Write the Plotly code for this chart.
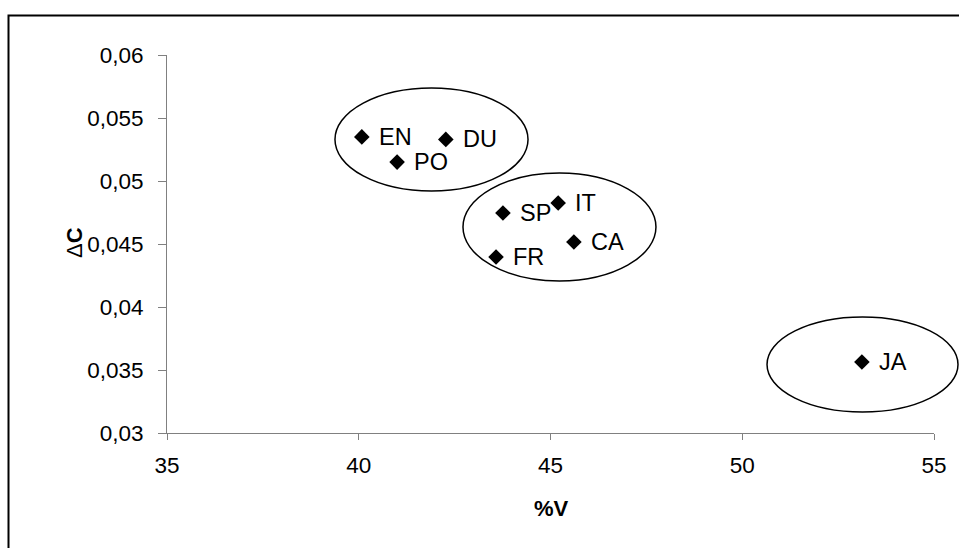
import plotly.graph_objects as go

# data
languages = ["EN", "DU", "PO", "SP", "IT", "CA", "FR", "JA"]
pct_v = [40.08, 42.27, 41.0, 43.76, 45.2, 45.61, 43.58, 53.12]
delta_c = [0.0535, 0.0533, 0.0515, 0.04746, 0.04825, 0.04516, 0.04397, 0.03563]
x_ticks = [35, 40, 45, 50, 55]
x_ticktext = ["35", "40", "45", "50", "55"]
y_ticks = [0.03, 0.035, 0.04, 0.045, 0.05, 0.055, 0.06]
y_ticktext = ["0,03", "0,035", "0,04", "0,045", "0,05", "0,055", "0,06"]

FONT = "Liberation Sans, Arial, sans-serif"

fig = go.Figure()
fig.add_trace(go.Scatter(
    x=pct_v, y=delta_c, mode="markers",
    marker=dict(symbol="diamond", size=12, color="black"),
    hoverinfo="skip", showlegend=False, cliponaxis=False,
))

annotations = []
for name, xv, yv in zip(languages, pct_v, delta_c):
    annotations.append(dict(x=xv, y=yv, xref="x", yref="y", text=name,
                            showarrow=False, xanchor="left", yanchor="middle",
                            xshift=15, font=dict(family=FONT, size=23.5, color="black")))

annotations.append(dict(x=(74 - 167) / 767, y=(433 - 243) / 378, xref="paper", yref="paper",
                        text="Δ<b>C</b>", textangle=-90, showarrow=False,
                        xanchor="center", yanchor="middle",
                        font=dict(family=FONT, size=22, color="black")))
annotations.append(dict(x=(551 - 167) / 767, y=(433 - 509) / 378, xref="paper", yref="paper",
                        text="<b>%V</b>", showarrow=False,
                        xanchor="center", yanchor="middle",
                        font=dict(family=FONT, size=22, color="black")))

shapes = [
    # outer frame
    dict(type="rect", xref="paper", yref="paper",
         x0=(8.5 - 167) / 767, x1=1.2, y0=-0.6, y1=(433 - 15.5) / 378,
         line=dict(color="black", width=2), layer="below"),
    # group ellipses
    dict(type="circle", xref="paper", yref="paper", x0=0.2190, x1=0.4707, y0=0.6402, y1=0.9127,
         line=dict(color="black", width=1.5)),
    dict(type="circle", xref="paper", yref="paper", x0=0.3859, x1=0.6375, y0=0.4021, y1=0.6878,
         line=dict(color="black", width=1.5)),
    dict(type="circle", xref="paper", yref="paper", x0=0.7823, x1=1.0313, y0=0.0556, y1=0.3069,
         line=dict(color="black", width=1.5)),
]

fig.update_layout(
    width=959, height=548,
    margin=dict(l=167, r=25, t=55, b=115),
    paper_bgcolor="white", plot_bgcolor="white",
    font=dict(family=FONT, size=22.5, color="black"),
    annotations=annotations, shapes=shapes,
    xaxis=dict(range=[35, 55], tickvals=x_ticks, ticktext=x_ticktext,
               showgrid=False, zeroline=False, showline=True, linecolor="#808080",
               linewidth=1, ticks="outside", ticklen=6, tickcolor="#808080",
               ticklabelstandoff=6,
               tickfont=dict(family=FONT, size=22.5, color="black")),
    yaxis=dict(range=[0.03, 0.06], tickvals=y_ticks, ticktext=y_ticktext,
               showgrid=False, zeroline=False, showline=True, linecolor="#808080",
               linewidth=1, ticks="outside", ticklen=8, tickcolor="#808080",
               ticklabelstandoff=10,
               tickfont=dict(family=FONT, size=22.5, color="black")),
)

fig.write_html("out.html", config={"displayModeBar": False},
               post_script="document.body.style.margin='0';document.body.style.overflow='hidden';")
